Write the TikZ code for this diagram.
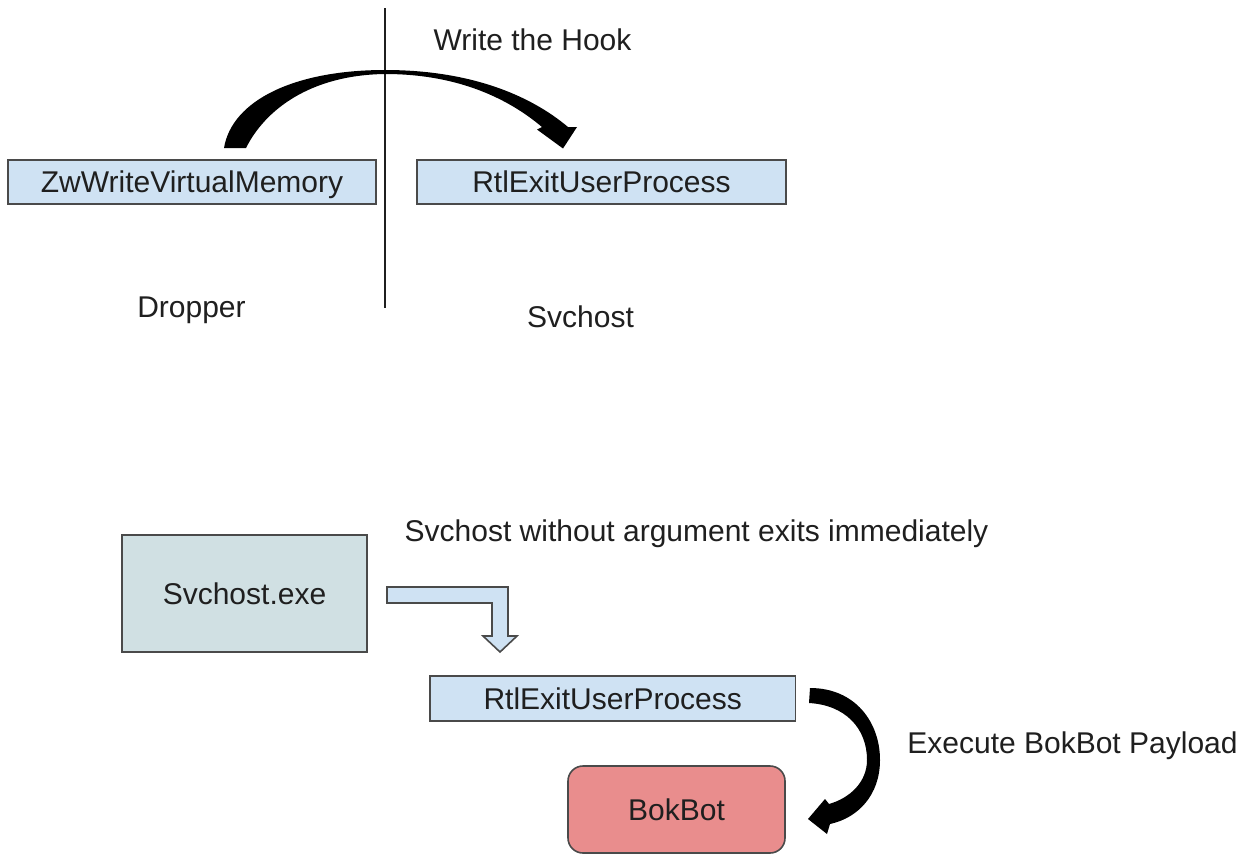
\documentclass[tikz,border=0pt]{standalone}
\usepackage{fontspec}
\setmainfont{Liberation Sans}
\definecolor{boxblue}{HTML}{CFE2F3}
\definecolor{boxteal}{HTML}{D0E0E3}
\definecolor{boxred}{HTML}{E98D8D}
\definecolor{edgegray}{HTML}{4A4A4A}
\definecolor{ink}{HTML}{1F1F1F}
\tikzset{
  lbl/.style={text=ink, inner sep=0pt, anchor=base},
  fnbox/.style={draw=edgegray, line width=1.6pt, inner sep=0pt, text=ink,
    text height=21.5pt, text depth=0pt},
  bluebox/.style={fnbox, fill=boxblue},
  procbox/.style={fnbox, fill=boxteal},
  payloadbox/.style={fnbox, fill=boxred, rounded corners=15pt},
  bigarrow/.style={fill=black, draw=none},
  flowarrow/.style={fill=boxblue, draw=edgegray, line width=1.6pt, line join=miter},
}
\begin{document}
\begin{tikzpicture}[x=1pt, y=-1pt, font=\fontsize{30}{36}\selectfont]
\useasboundingbox (0,0) rectangle (1253,854);
\fill[white] (0,0) rectangle (1253,854);

% --- upper half: hook written from the dropper into svchost ---
\coordinate (vtop) at (385,8);
\coordinate (vbot) at (385,308);
\draw[line width=1.8pt, ink] (vtop) -- (vbot);

\node[bluebox, minimum width=368pt, minimum height=44pt] (zw) at (192,182) {ZwWriteVirtualMemory};
\node[bluebox, minimum width=369pt, minimum height=44pt] (rtlA) at (601.5,182) {RtlExitUserProcess};

\node[lbl] (hook) at (532.5,50) {Write the Hook};
\node[lbl] (dropper) at (191.5,317) {Dropper};
\node[lbl] (svc) at (580.5,327) {Svchost};

% tapered hook arrow over the divider
\path[bigarrow]
  (224,148) .. controls (232,100) and (295,70) .. (385,70)
  .. controls (470,70) and (530,95) .. (568,127)
  -- (577,127) -- (563,148.5) -- (537,129.5) -- (542,127)
  .. controls (510,100) and (460,74) .. (385,74)
  .. controls (310,75) and (265,110) .. (246,148) -- cycle;

% --- lower half: svchost exits through the hooked routine ---
\node[procbox, minimum width=245pt, minimum height=117pt] (exe) at (244.5,593.5) {Svchost.exe};
\node[bluebox, minimum width=365.5pt, minimum height=45pt] (rtlB) at (612.75,698.5) {RtlExitUserProcess};
\node[payloadbox, minimum width=217pt, minimum height=87pt] (bok) at (676.5,809.5) {BokBot};

\node[lbl] (noarg) at (696.5,541.5) {Svchost without argument exits immediately};
\node[lbl] (exec) at (1072.5,753.5) {Execute BokBot Payload};

% bent block arrow from the process box down to the exit routine
\path[flowarrow]
  (387,587) -- (508,587) -- (508,636) -- (517,636) -- (500,652)
  -- (483,636) -- (492,636) -- (492,603) -- (387,603) -- cycle;

% curved arrow from the exit routine to the payload
\path[bigarrow]
  (810,688) .. controls (855,688) and (880,722) .. (880,760)
  .. controls (880,795) and (858,818) .. (830,824)
  -- (827,834) -- (808,819) -- (825,799) -- (829,804)
  .. controls (850,798) and (867,782) .. (867,760)
  .. controls (867,728) and (845,705) .. (809,703) -- cycle;
\end{tikzpicture}
\end{document}
